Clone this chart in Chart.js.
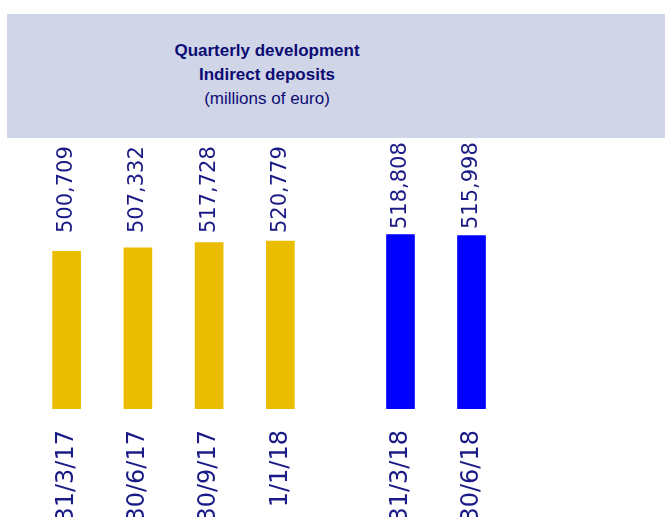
<!DOCTYPE html>
<html lang="en">
<head>
    <meta charset="UTF-8">
    <title>Quarterly development - Indirect deposits</title>
    <script src="https://cdn.jsdelivr.net/npm/chart.js"></script>
    <style>
        body { margin: 0; background: #fff; overflow: hidden; width: 665px; height: 517px; position: relative; }
        #header {
            position: absolute; left: 7px; top: 14px; width: 658px; height: 124px;
            background: #d0d5e8;
        }
        #title {
            position: absolute; left: 0; top: 25px; width: 520px; text-align: center;
            font-family: "Liberation Sans", Arial, sans-serif; font-size: 17px; line-height: 24px;
            color: #0c0c74;
        }
        #title b { display: block; }
        .panel { position: absolute; top: 140px; width: 305px; height: 389px; }
        #left { left: 20px; }
        #right { left: 353px; }
    </style>
</head>
<body>
    <div id="header">
        <div id="title">
            <b>Quarterly development</b>
            <b>Indirect deposits</b>
            <span>(millions of euro)</span>
        </div>
    </div>
    <div class="panel" id="left"><canvas id="chart2017"></canvas></div>
    <div class="panel" id="right"><canvas id="chart2018"></canvas></div>

    <script>
        // quarter-end dates and indirect deposits (millions of euro)
        const labels2017 = ['31/3/17', '30/6/17', '30/9/17', '1/1/18'];
        const values2017 = [500709, 507332, 517728, 520779];

        const labels2018 = ['31/3/18', '30/6/18', '', ''];
        const values2018 = [518808, 515998];

        const navy = '#1a1a86';
        const labelFont = { family: 'DejaVu Sans', size: 21 };

        // writes each bar's value vertically above it
        const valueLabels = {
            id: 'valueLabels',
            afterDatasetsDraw(chart, args, opts) {
                const ctx = chart.ctx;
                const meta = chart.getDatasetMeta(0);
                ctx.save();
                ctx.fillStyle = navy;
                ctx.font = labelFont.size + 'px "' + labelFont.family + '"';
                ctx.textAlign = 'left';
                ctx.textBaseline = 'middle';
                meta.data.forEach((bar, i) => {
                    const v = chart.data.datasets[0].data[i];
                    if (v == null) return;
                    ctx.save();
                    ctx.translate(bar.x, chart.chartArea.top + opts.base);
                    ctx.rotate(-Math.PI / 2);
                    ctx.fillText(v.toLocaleString('en-US'), 0, 0);
                    ctx.restore();
                });
                ctx.restore();
            }
        };

        function makeChart(id, labels, values, color, yMin, yMax, base, padLeft, padRight) {
            return new Chart(document.getElementById(id), {
                type: 'bar',
                data: {
                    labels: labels,
                    datasets: [{
                        data: values,
                        backgroundColor: color,
                        barThickness: 28
                    }]
                },
                options: {
                    responsive: true,
                    maintainAspectRatio: false,
                    animation: false,
                    layout: { padding: { left: padLeft, right: padRight, top: 0, bottom: 0 } },
                    plugins: {
                        legend: { display: false },
                        tooltip: { enabled: false },
                        valueLabels: { base: base }
                    },
                    scales: {
                        x: {
                            grid: { display: false },
                            border: { display: false },
                            ticks: {
                                autoSkip: false,
                                minRotation: 90,
                                maxRotation: 90,
                                padding: 13,
                                color: navy,
                                font: { family: 'DejaVu Sans', size: 24 }
                            },
                            afterFit(scale) { scale.height = 120; }
                        },
                        y: { display: false, min: yMin, max: yMax }
                    }
                },
                plugins: [valueLabels]
            });
        }

        makeChart('chart2017', labels2017, values2017, '#ebbd00', 190000, 720000, 93, 11, 9);
        makeChart('chart2018', labels2018, values2018, '#0000ff', 0, 800000, 89, 12, 9);
    </script>
</body>
</html>
